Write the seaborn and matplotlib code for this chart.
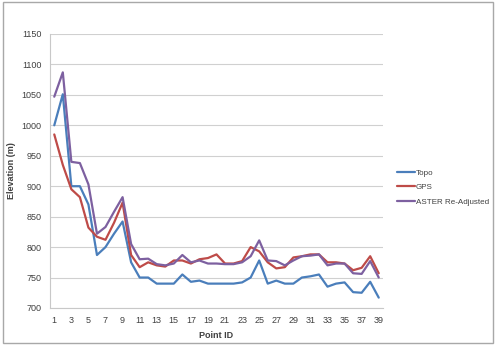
import pandas as pd
import seaborn as sns
from matplotlib import pyplot as plt
from matplotlib.patches import Rectangle

point_ids = list(range(1, 40))
topo = [1000, 1051, 900, 900, 870, 787, 800, 822, 842, 775,
        750, 750, 740, 740, 740, 755, 743, 745, 740, 740,
        740, 740, 742, 750, 778, 740, 745, 740, 740, 750,
        752, 755, 735, 740, 742, 726, 725, 743, 717]
gps = [985, 935, 895, 882, 832, 817, 812, 840, 873, 787,
       767, 775, 770, 768, 778, 778, 773, 780, 782, 788,
       773, 773, 777, 800, 793, 775, 765, 767, 783, 785,
       788, 788, 775, 775, 773, 762, 766, 785, 757]
aster = [1047, 1087, 940, 938, 903, 822, 833, 858, 882, 805,
         780, 781, 772, 770, 773, 787, 775, 778, 773, 773,
         772, 772, 775, 785, 811, 778, 777, 770, 778, 785,
         786, 788, 770, 773, 773, 757, 756, 777, 750]
series_names = ["Topo", "GPS", "ASTER Re-Adjusted"]
colors = ["#4A7EBB", "#BE4B48", "#7D60A0"]

df = pd.concat([
    pd.DataFrame({"Point ID": point_ids, "Elevation (m)": vals, "Series": name})
    for name, vals in zip(series_names, [topo, gps, aster])
])

sns.set_style("white")
plt.rcParams['font.family'] = ['Liberation Sans', 'DejaVu Sans']

fig = plt.figure(figsize=(5, 3.54), dpi=100)
ax = fig.add_axes([0.1, 0.13, 0.666, 0.774])

sns.lineplot(data=df, x="Point ID", y="Elevation (m)", hue="Series",
             palette=colors, linewidth=1.6, ax=ax)

ax.set_xlim(0.5, 39.5)
ax.set_ylim(700, 1150)
ax.set_yticks(range(700, 1151, 50))
ax.set_xticks(range(1, 40, 2))
ax.grid(axis="y", color="#D0D0D0", linewidth=0.8)
ax.set_axisbelow(True)
for side in ["top", "right"]:
    ax.spines[side].set_visible(False)
for side in ["left", "bottom"]:
    ax.spines[side].set_color("#C8C8C8")
    ax.spines[side].set_linewidth(0.8)
ax.tick_params(axis="both", labelsize=6.5, colors="#404040", length=4,
               width=0.6, direction="out", pad=2)
ax.tick_params(axis="x", length=0, pad=6)
ax.tick_params(axis="y", color="#C8C8C8")
ax.set_xlabel("Point ID", fontsize=6.5, fontweight="bold", color="#404040", labelpad=4)
ax.set_ylabel("Elevation (m)", fontsize=6.5, fontweight="bold", color="#404040")
ax.yaxis.set_label_coords(-0.102, 0.5)

ax.legend(loc="center left", bbox_to_anchor=(1.042, 0.44), frameon=False,
          fontsize=5.8, handlelength=2.2, handletextpad=0.1, labelspacing=0.85,
          borderpad=0, borderaxespad=0, labelcolor="#404040")

fig.add_artist(Rectangle((3 / 500, 1 - 343 / 354), 490 / 500, 341 / 354,
                         transform=fig.transFigure, fill=False,
                         edgecolor="#A8A8A8", linewidth=1.0))

fig.savefig("out.png", dpi=100)
